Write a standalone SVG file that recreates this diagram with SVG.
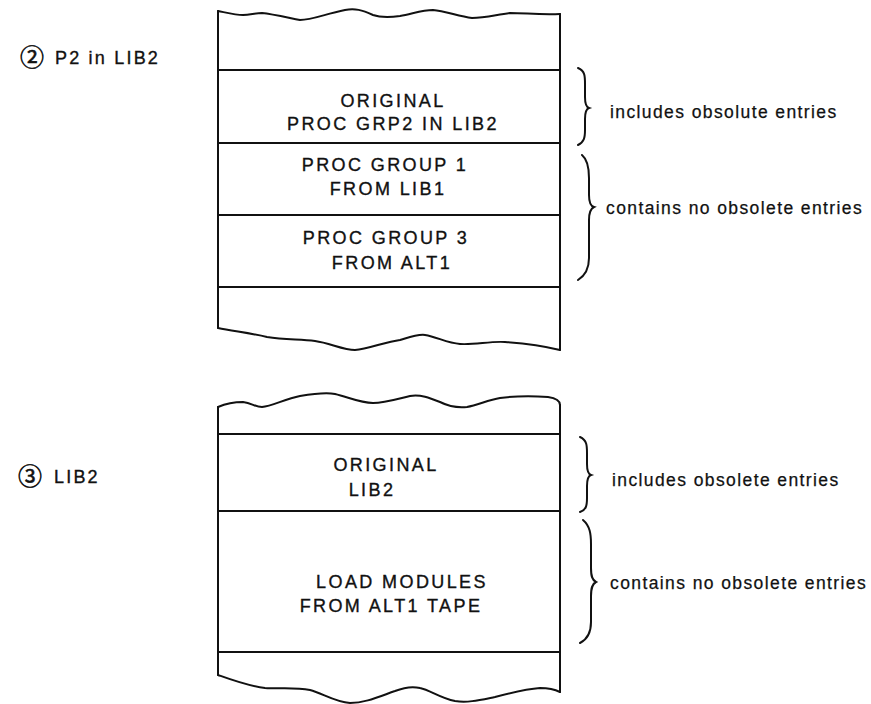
<svg xmlns="http://www.w3.org/2000/svg" width="871" height="704" viewBox="0 0 871 704">
<style>
.bg{fill:#fff}
.ln{fill:none;stroke:#111;stroke-width:2;stroke-linejoin:round;stroke-linecap:round}
.br{fill:none;stroke:#111;stroke-width:2;stroke-linecap:round}
.bx{font-family:"Liberation Sans",Arial,sans-serif;font-size:18px;letter-spacing:2.4px;fill:#111;stroke:#111;stroke-width:0.35;text-anchor:middle}
.lb{font-family:"Liberation Sans",Arial,sans-serif;font-size:18px;letter-spacing:2.2px;fill:#111;stroke:#111;stroke-width:0.35}
.cd{font-family:"Noto Sans CJK JP","Noto Sans CJK SC",sans-serif;font-size:24px;fill:#111;stroke:#111;stroke-width:0.6}
.nt{font-family:"Liberation Sans",Arial,sans-serif;font-size:17.5px;letter-spacing:1.4px;fill:#111;stroke:#111;stroke-width:0.25}
</style>
<rect class="bg" x="0" y="0" width="871" height="704"/>

<g id="label-p2">
<text class="cd" x="20" y="66">②</text>
<text class="lb" x="55" y="64">P2 in LIB2</text>
</g>

<g id="stack-p2">
<path class="ln" d="M218,11 C228,13 236,15 243,15 C250,15 255,13 262,13 C272,14 285,17 300,20 C312,20 325,14 345,10 C355,8 362,10 373,15 C382,18 392,17 400,16 C412,14 422,10 433,10 C445,11 458,16 472,18 C485,18 495,15 510,13 C525,13 540,15 560,14"/>
<path class="ln" d="M218,11 L218,328"/>
<path class="ln" d="M560,14 L560,350"/>
<path class="ln" d="M218,328 C232,331 250,333 267,337 C285,340 300,339 315,341 C330,343 343,350 355,350 C368,349 385,342 400,340 C410,337 418,334 425,335 C437,337 447,343 460,344 C475,345 490,341 505,342 C520,343 540,345 560,350"/>
<path class="ln" d="M218,70 L560,70"/>
<path class="ln" d="M218,143 L560,143"/>
<path class="ln" d="M218,215 L560,215"/>
<path class="ln" d="M218,287 L560,287"/>
</g>
<g id="cell-original-p2">
<text class="bx" x="393" y="107">ORIGINAL</text>
<text class="bx" x="393" y="130">PROC GRP2 IN LIB2</text>
</g>
<g id="cell-group1">
<text class="bx" x="385" y="171">PROC GROUP 1</text>
<text class="bx" x="388" y="195">FROM LIB1</text>
</g>
<g id="cell-group3">
<text class="bx" x="386" y="244">PROC GROUP 3</text>
<text class="bx" x="392" y="269">FROM ALT1</text>
</g>

<g id="label-lib2">
<text class="cd" x="18" y="485">③</text>
<text class="lb" x="54" y="483">LIB2</text>
</g>

<g id="stack-lib2">
<path class="ln" d="M218,407 C225,404 235,402 243,402 C252,403 255,407 262,407 C272,406 285,399 300,396 C312,394 325,392 335,394 C348,397 360,403 373,403 C385,403 397,399 410,396 C420,394 430,398 440,402 C448,406 458,408 467,407 C478,405 488,400 500,398 C515,396 535,396 548,397 C555,398 560,401 560,405"/>
<path class="ln" d="M218,407 L218,675"/>
<path class="ln" d="M560,405 L560,692"/>
<path class="ln" d="M218,675 C232,680 248,686 265,688 C280,689 295,687 310,690 C322,693 335,702 350,703 C365,703 378,697 395,691 C405,687 412,686 420,688 C430,690 440,698 455,701 C468,703 480,700 495,697 C510,693 525,689 540,688 C550,688 556,690 560,692"/>
<path class="ln" d="M218,434 L560,434"/>
<path class="ln" d="M218,511 L560,511"/>
<path class="ln" d="M218,652 L560,652"/>
</g>
<g id="cell-original-lib2">
<text class="bx" x="386" y="471">ORIGINAL</text>
<text class="bx" x="372" y="496">LIB2</text>
</g>
<g id="cell-load-modules">
<text class="bx" x="402" y="588">LOAD MODULES</text>
<text class="bx" x="391" y="612">FROM ALT1 TAPE</text>
</g>

<g id="connectors">
<path class="br" d="M578,68 C585,71 585,76 585,84 L585,97 C585,104 586,107 589,108 C586,109 585,112 585,119 L585,130 C585,138 584,142 578,145"/>
<path class="br" d="M582,155 C588,160 589,168 589,178 L589,195 C589,202 590,206 594,207 C590,209 589,213 589,220 L589,258 C589,268 586,275 578,280"/>
<path class="br" d="M580,437 C587,440 587,446 587,453 L587,464 C587,471 588,474 591,475 C588,476 587,479 587,486 L587,498 C587,506 586,510 580,512"/>
<path class="br" d="M583,520 C590,526 591,534 591,544 L591,568 C591,576 592,580 596,582 C592,584 591,588 591,596 L591,622 C591,632 588,639 580,643"/>
</g>

<g id="notes">
<text class="nt" x="610" y="118">includes obsolute entries</text>
<text class="nt" x="606" y="214">contains no obsolete entries</text>
<text class="nt" x="612" y="486">includes obsolete entries</text>
<text class="nt" x="610" y="589">contains no obsolete entries</text>
</g>
</svg>
